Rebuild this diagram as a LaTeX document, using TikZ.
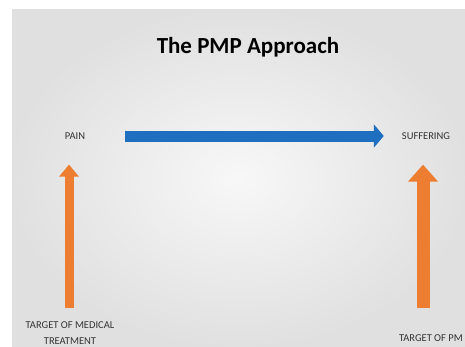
\documentclass[tikz,border=0pt]{standalone}
\usepackage{fontspec}
\setmainfont{Carlito}
\usetikzlibrary{arrows.meta, positioning}

\definecolor{slideblue}{HTML}{1E6FC0}
\definecolor{slideorange}{HTML}{ED7D31}

\begin{document}
\begin{tikzpicture}[x=1pt, y=1pt,
    label/.style={inner sep=0pt, font=\fontsize{10.5}{16}\selectfont, text=black!80},
    bluearrow/.style={slideblue, line width=11pt, -{Triangle[width=23pt, length=10pt]}},
    orangearrow/.style={slideorange, line width=9pt, -{Triangle[width=19pt, length=12pt]}}]
\useasboundingbox (0,0) rectangle (465,346);
\fill [white] (0,0) rectangle (465,346);
\shade [inner color=white!97!black, outer color=black!12] (12,0) rectangle (465,336);

\node [font=\fontsize{23}{26}\selectfont\bfseries] (title) at (248,299) {The PMP Approach};

\node [label] (pain) at (75,210) {PAIN};
\node [label] (suffering) at (426,210) {SUFFERING};

\node [label, align=center, anchor=north] (tgtmed) at (70,25) {TARGET OF MEDICAL\\TREATMENT};
\node [label, anchor=north east] (tgtpm) at (463,12) {TARGET OF PM};

\draw [bluearrow, shorten <=40pt, shorten >=18pt] (pain.east) -- (suffering.west);
\draw [orangearrow, shorten <=13pt, shorten >=25pt] (tgtmed.north -| 69,0) -- (69,0 |- pain.south);
\draw [orangearrow, line width=13pt, -{Triangle[width=29pt, length=17pt]}, shorten <=26pt, shorten >=25pt] (tgtpm.north -| 423,0) -- (423,0 |- suffering.south);

\end{tikzpicture}
\end{document}
